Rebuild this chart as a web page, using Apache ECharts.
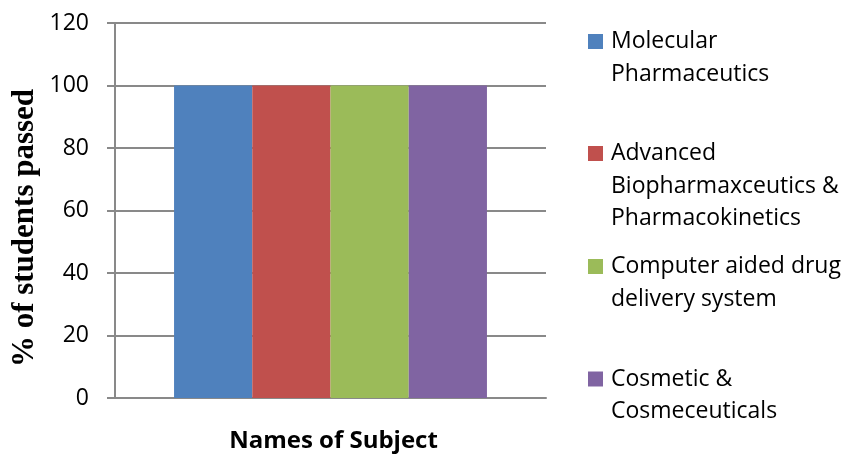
<!DOCTYPE html>
<html><head><meta charset="utf-8">
<script src="https://cdn.jsdelivr.net/npm/echarts@6/dist/echarts.min.js"></script>
<style>html,body{margin:0;padding:0;background:#fff}#c{width:847px;height:455px}</style>
</head><body><div id="c"></div>
<script>
// ---- data ----
const categories = [''];
const seriesNames = [
  'Molecular Pharmaceutics',
  'Advanced Biopharmaxceutics & Pharmacokinetics',
  'Computer aided drug delivery system',
  'Cosmetic & Cosmeceuticals'
];
const legendLabels = [
  'Molecular\nPharmaceutics',
  'Advanced\nBiopharmaxceutics &\nPharmacokinetics',
  'Computer aided drug\ndelivery system',
  'Cosmetic &\nCosmeceuticals'
];
const passedPercent = [100, 100, 100, 100];
const yMin = 0, yMax = 120, yStep = 20;
const xTitle = 'Names of Subject';
const yTitle = '% of students passed';

// ---- style / layout ----
const colors = ['#4F81BD', '#C0504D', '#9BBB59', '#8064A2'];
const gray = '#898989';
const sans = '"Open Sans", "Liberation Sans", sans-serif';
const LH = 32.5;
const legendIconCenters = [41.5, 153.5, 266.5, 379];

const legends = seriesNames.map((name, i) => {
  const n = legendLabels[i].split('\n').length;
  // prepend blank lines so the first real line sits level with the key
  const text = '\n'.repeat(n - 1) + legendLabels[i];
  return {
    orient: 'vertical',
    left: 588,
    top: legendIconCenters[i] - (2 * n - 1) * LH / 2,
    padding: 0,
    icon: 'rect',
    itemWidth: 15,
    itemHeight: 15,
    selectedMode: false,
    formatter: () => text,
    textStyle: {
      fontFamily: sans, fontSize: 23, color: '#000', lineHeight: LH,
      padding: [0, 0, 0, 3]
    },
    data: [name]
  };
});

const chart = echarts.init(document.getElementById('c'), null, {renderer: 'canvas'});
chart.setOption({
  animation: false,
  backgroundColor: '#fff',
  color: colors,
  grid: {left: 115, right: 301, top: 23, bottom: 57, containLabel: false, outerBoundsMode: 'none'},
  legend: legends,
  graphic: [{
    type: 'text',
    x: 25, y: 228,
    rotation: Math.PI / 2,
    style: {
      text: yTitle,
      font: 'bold 31px "Liberation Serif", "Times New Roman", serif',
      fill: '#000',
      align: 'center',
      verticalAlign: 'middle'
    }
  }],
  xAxis: {
    type: 'category',
    data: categories,
    name: xTitle,
    nameLocation: 'middle',
    nameGap: 31,
    nameTextStyle: {fontFamily: sans, fontSize: 24, fontWeight: 'bold', color: '#000', padding: [0, 0, 0, 6]},
    axisLine: {show: true, lineStyle: {color: gray, width: 2}},
    axisTick: {show: false},
    axisLabel: {show: false},
    splitLine: {show: false}
  },
  yAxis: {
    type: 'value',
    min: yMin, max: yMax, interval: yStep,
    axisLine: {show: true, lineStyle: {color: gray, width: 2}},
    axisTick: {show: true, length: 8, lineStyle: {color: gray, width: 2}},
    axisLabel: {fontFamily: sans, fontSize: 23, color: '#000', margin: 26},
    splitLine: {show: true, lineStyle: {color: gray, width: 2}}
  },
  series: seriesNames.map((name, i) => ({
    name: name,
    type: 'bar',
    data: [passedPercent[i]],
    barGap: '0%',
    barCategoryGap: '27.4%',
    itemStyle: {color: colors[i]},
    emphasis: {disabled: true}
  }))
});
</script>
</body></html>
